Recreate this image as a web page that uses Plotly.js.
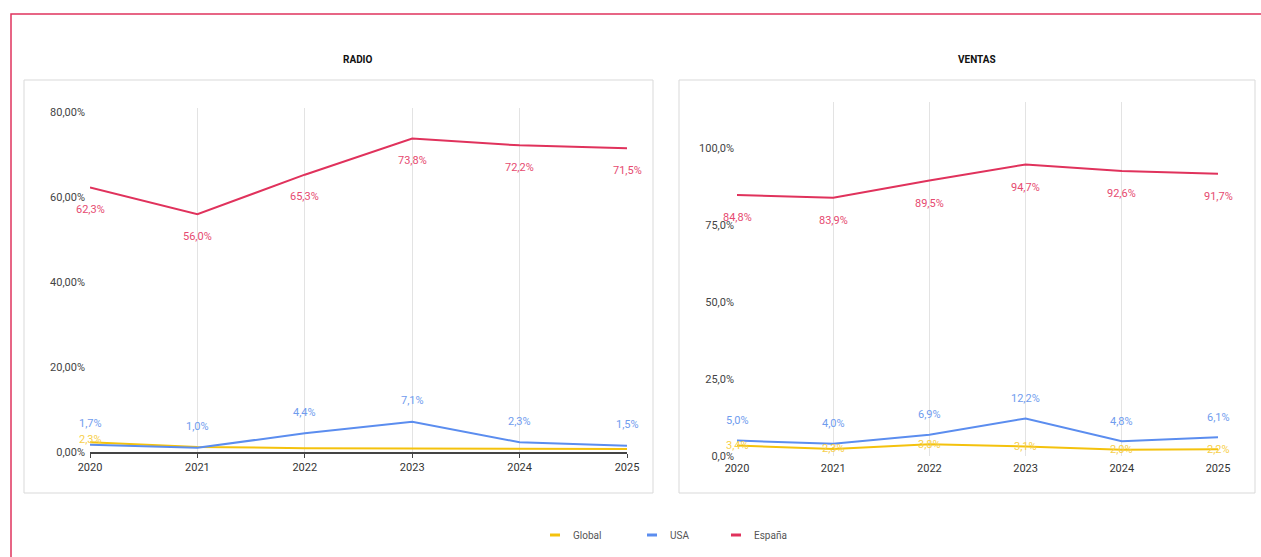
<!DOCTYPE html>
<html><head><meta charset="utf-8">
<script src="https://cdn.plot.ly/plotly-3.0.1.min.js"></script>
<style>html,body{margin:0;padding:0;background:#fff;}#chart{width:1261px;height:557px;}</style>
</head><body><div id="chart"></div>
<script>
const years = [2020, 2021, 2022, 2023, 2024, 2025];
const seriesNames = ["Global", "USA", "España"];
const radioGlobal = [2.3, 1.2, 0.9, 0.8, 0.8, 0.7];
const radioUSA = [1.7, 1.0, 4.4, 7.1, 2.3, 1.5];
const radioEspana = [62.3, 56.0, 65.3, 73.8, 72.2, 71.5];
const ventasGlobal = [3.4, 2.3, 3.8, 3.1, 2.0, 2.2];
const ventasUSA = [5.0, 4.0, 6.9, 12.2, 4.8, 6.1];
const ventasEspana = [84.8, 83.9, 89.5, 94.7, 92.6, 91.7];
const radioGlobalLabelShown = [true, false, false, false, false, false];
const radioTicks = [0, 20, 40, 60, 80];
const radioTickText = ["0,00%", "20,00%", "40,00%", "60,00%", "80,00%"];
const ventasTicks = [0, 25, 50, 75, 100];
const ventasTickText = ["0,0%", "25,0%", "50,0%", "75,0%", "100,0%"];
const panelTitles = ["RADIO", "VENTAS"];

const colors = {Global: "#f4c20d", USA: "#5b8def", "España": "#e0325c"};
const labelColors = {Global: "#f7cf4a", USA: "#6f9cee", "España": "#e64a70"};
const W = 1261, H = 557;
const px = x => x / W, py = y => 1 - y / H;
const fmt = v => v.toFixed(1).replace('.', ',') + '%';
const fontFam = 'Roboto, Arial, sans-serif';

const traces = [];
const annotations = [];
function addSeries(vals, name, xa, ya, yshift, shownArr) {
  traces.push({x: years, y: vals, name: name, type: 'scatter', mode: 'lines',
    xaxis: xa, yaxis: ya, line: {color: colors[name], width: 2}, showlegend: false,
    hoverinfo: 'skip', cliponaxis: false});
  vals.forEach((v, i) => {
    if (shownArr && !shownArr[i]) return;
    annotations.push({x: years[i], y: v, xref: xa, yref: ya, text: fmt(v), showarrow: false,
      xanchor: 'center', yanchor: 'middle', yshift: yshift,
      font: {family: fontFam, size: 11, color: labelColors[name]}});
  });
}
addSeries(radioGlobal, "Global", 'x', 'y', 3, radioGlobalLabelShown);
addSeries(radioUSA, "USA", 'x', 'y', 21);
addSeries(radioEspana, "España", 'x', 'y', -22);
addSeries(ventasGlobal, "Global", 'x2', 'y2', 0);
addSeries(ventasUSA, "USA", 'x2', 'y2', 20);
addSeries(ventasEspana, "España", 'x2', 'y2', -23);

[[358, panelTitles[0]], [977, panelTitles[1]]].forEach(([x, t]) => {
  annotations.push({x: px(x), y: py(60), xref: 'paper', yref: 'paper', xanchor: 'center', yanchor: 'middle',
    text: '<b>' + t + '</b>', showarrow: false, font: {family: fontFam, size: 10, color: '#111'}});
});

const shapes = [
  {type: 'rect', xref: 'paper', yref: 'paper', x0: px(11), x1: 1.02, y0: -0.05, y1: py(14), line: {color: '#e0335d', width: 1.5}},
  {type: 'rect', xref: 'paper', yref: 'paper', x0: px(24), x1: px(653), y0: py(493), y1: py(80), line: {color: '#d9d9d9', width: 1}},
  {type: 'rect', xref: 'paper', yref: 'paper', x0: px(679), x1: px(1255), y0: py(493), y1: py(80), line: {color: '#d9d9d9', width: 1}}
];
// custom legend
const legendTextX = [571, 668, 752];
seriesNames.forEach((n, i) => {
  shapes.push({type: 'line', xref: 'paper', yref: 'paper', x0: px(legendTextX[i] - 21), x1: px(legendTextX[i] - 11), y0: py(535), y1: py(535),
    line: {color: colors[n], width: 3}});
  annotations.push({x: px(legendTextX[i]), y: py(535), xref: 'paper', yref: 'paper', xanchor: 'left', yanchor: 'middle',
    text: n, showarrow: false, font: {family: fontFam, size: 10, color: '#555'}});
});

const tickFont = {family: fontFam, size: 11, color: '#333'};
const layout = {
  width: W, height: H, margin: {l: 0, r: 0, t: 0, b: 0},
  paper_bgcolor: '#fff', plot_bgcolor: 'rgba(0,0,0,0)', showlegend: false,
  xaxis: {domain: [px(90), px(627)], range: [2020, 2025], tickvals: years, ticktext: years.map(String),
    showgrid: true, gridcolor: '#e3e3e3', zeroline: false, showline: true, linecolor: '#444', linewidth: 1.5,
    ticks: 'outside', ticklen: 4, tickcolor: '#444', tickfont: tickFont, anchor: 'y'},
  yaxis: {domain: [py(452), py(108)], range: [0, 81], tickvals: radioTicks, ticktext: radioTickText,
    showgrid: false, zeroline: false, showline: false, tickfont: Object.assign({}, tickFont, {color: '#444'}),
    anchor: 'x', ticklabelstandoff: 4},
  xaxis2: {domain: [px(737), px(1218)], range: [2020, 2025], tickvals: years, ticktext: years.map(String),
    showgrid: true, gridcolor: '#e3e3e3', zeroline: false, showline: false, ticks: '', tickfont: tickFont, anchor: 'y2', ticklabelstandoff: 4},
  yaxis2: {domain: [py(456), py(102)], range: [0, 115], tickvals: ventasTicks, ticktext: ventasTickText,
    showgrid: false, zeroline: false, showline: false, tickfont: Object.assign({}, tickFont, {color: '#444'}), anchor: 'x2', ticklabelstandoff: 2},
  annotations: annotations, shapes: shapes
};
Plotly.newPlot('chart', traces, layout, {displayModeBar: false, staticPlot: true});
</script></body></html>
